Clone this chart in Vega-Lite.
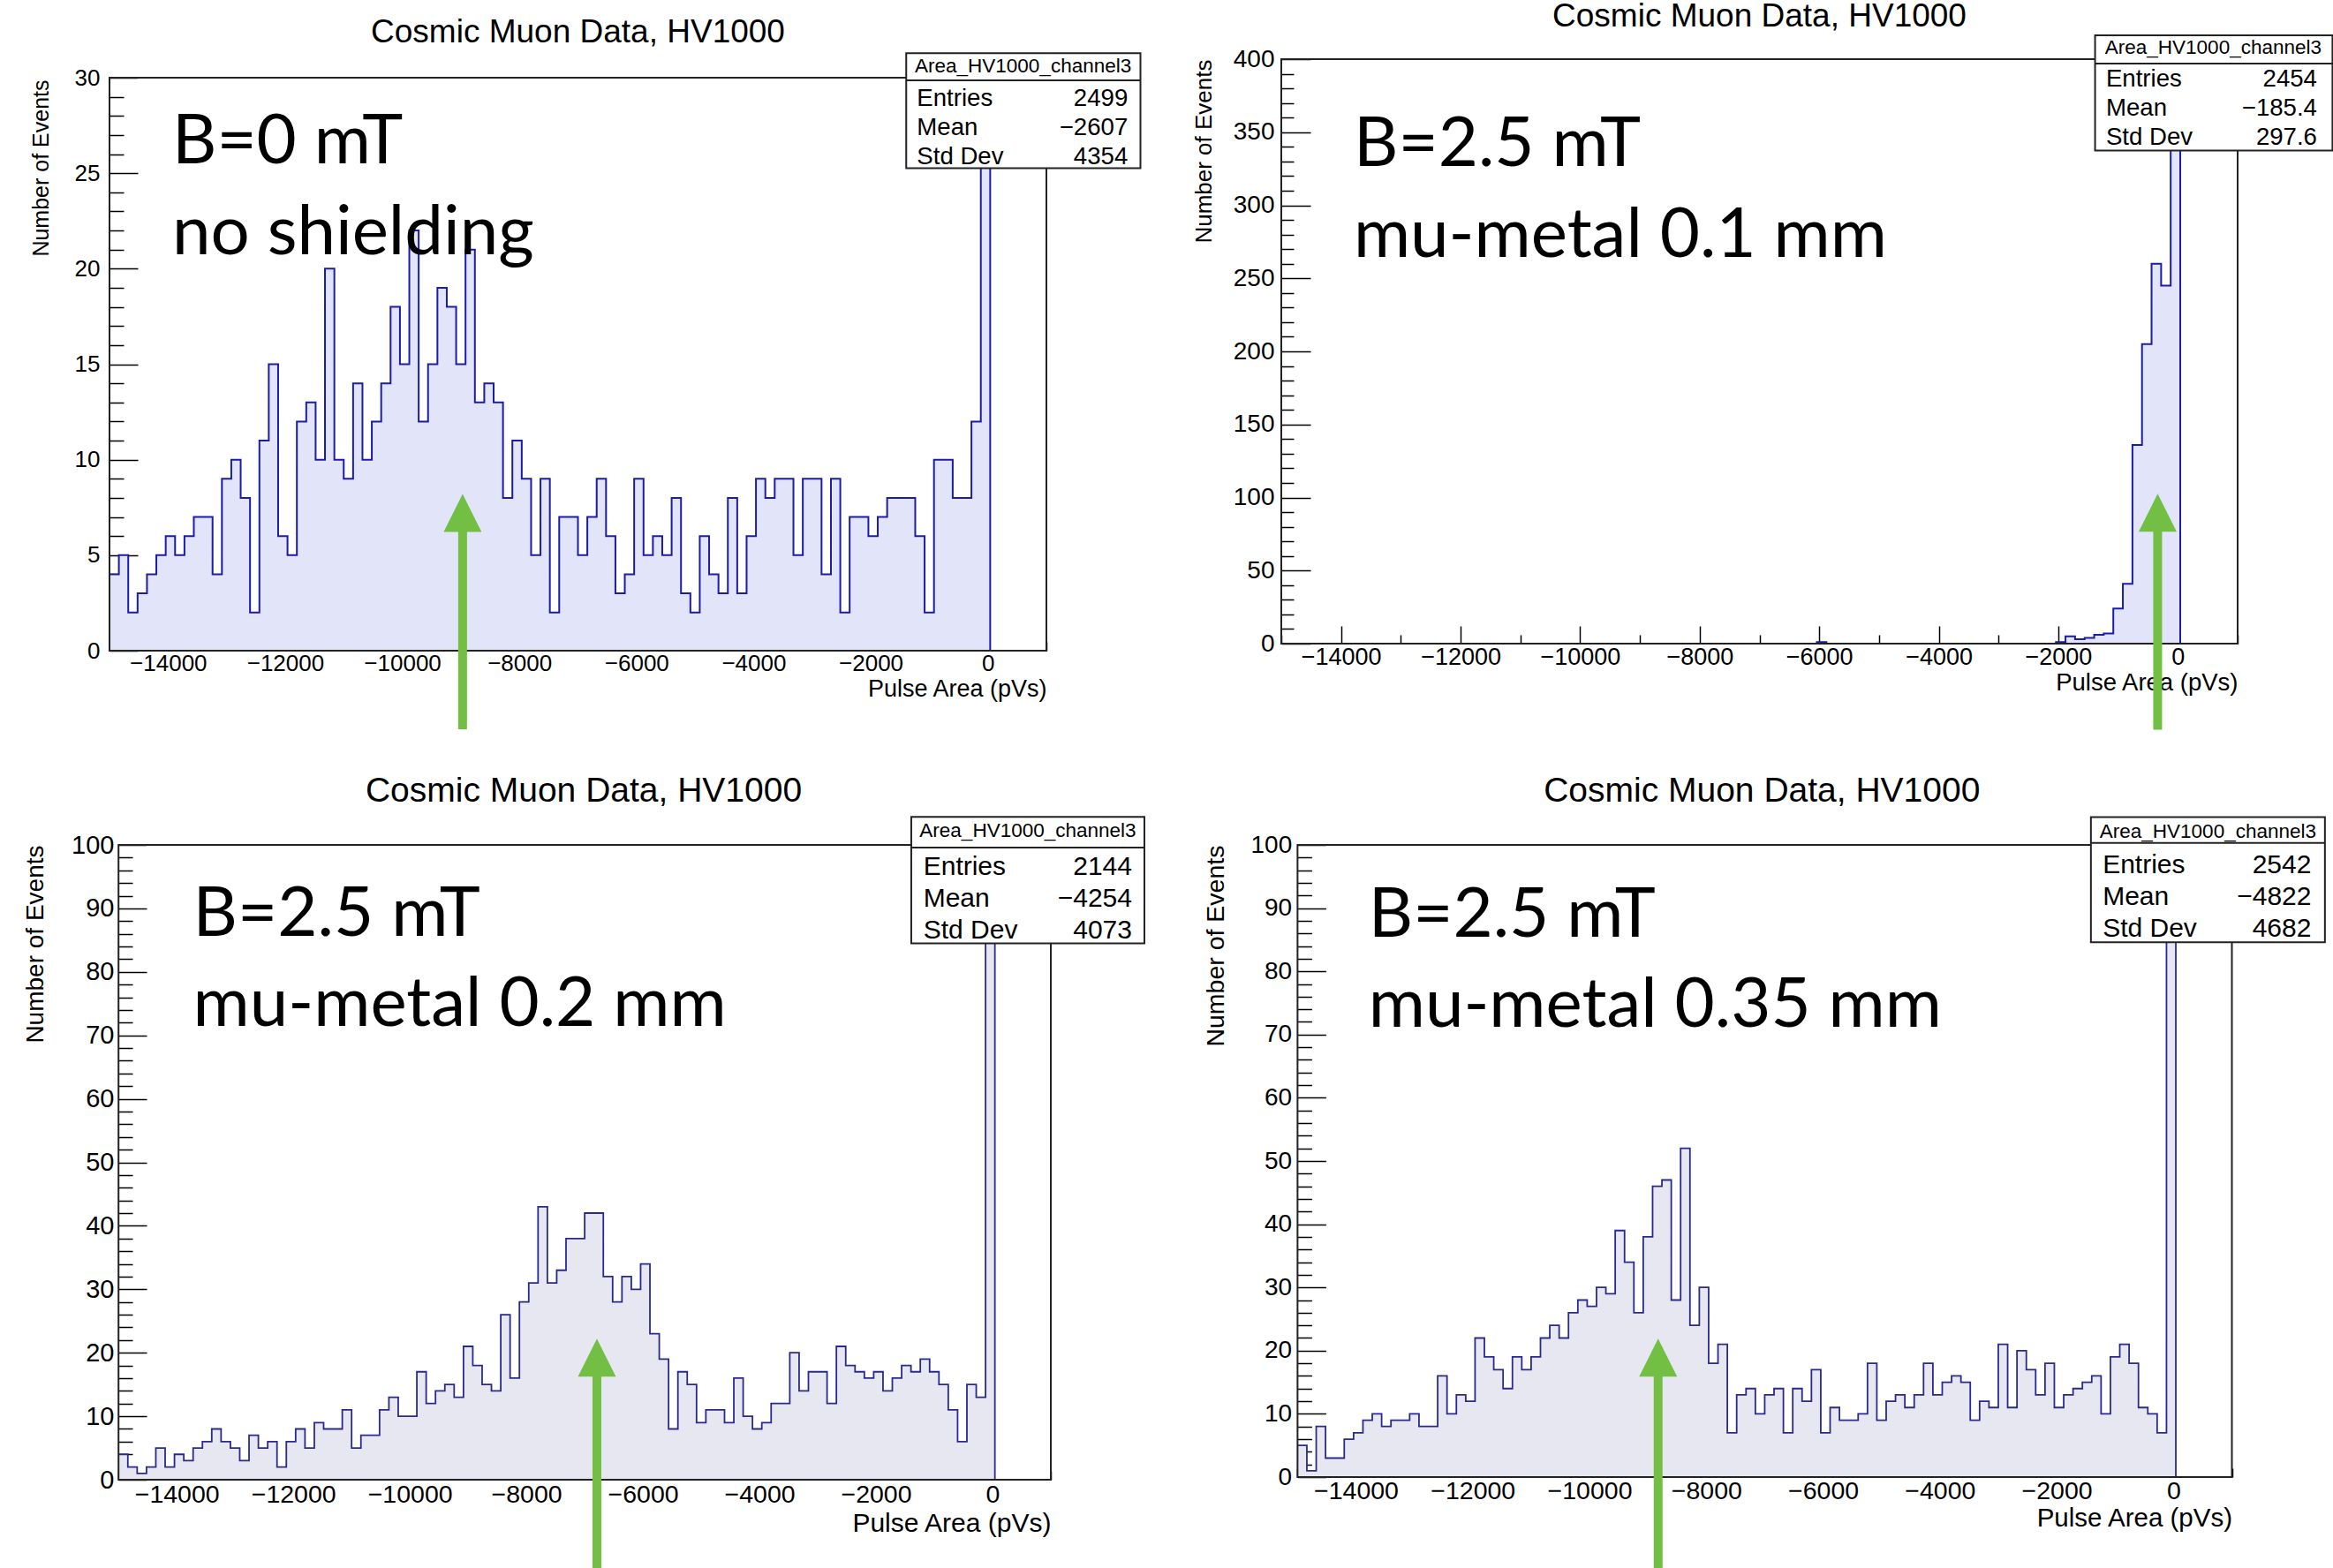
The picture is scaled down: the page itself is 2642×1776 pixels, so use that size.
{
"$schema": "https://vega.github.io/schema/vega-lite/v6.json",
"autosize": {"type": "pad"},
"padding": {"left": 26, "top": 0, "right": 0, "bottom": 0},
"background": "white",
"config": {
  "view": {"stroke": null},
  "axis": {"domain": false, "grid": false, "labelFont": "Liberation Sans", "labelColor": "#000", "tickColor": "#000", "tickWidth": 1.5, "titleFont": "Liberation Sans", "titleFontWeight": "normal", "titleColor": "#000", "labelFlush": false, "labelOverlap": false, "labelBound": false, "zindex": 1},
  "title": {"font": "Liberation Sans", "fontWeight": "normal", "color": "#000", "anchor": "middle", "frame": "group"}
},
"datasets": {
  "hist": [
    {"x0": -15000, "a": 4, "b": 0, "c": 4, "d": 5},
    {"x0": -14840, "a": 5, "b": 0, "c": 2, "d": 1},
    {"x0": -14680, "a": 2, "b": 0, "c": 1, "d": 8},
    {"x0": -14520, "a": 3, "b": 0, "c": 2, "d": 3},
    {"x0": -14360, "a": 4, "b": 0, "c": 5, "d": 3},
    {"x0": -14200, "a": 5, "b": 0, "c": 2, "d": 6},
    {"x0": -14040, "a": 6, "b": 0, "c": 4, "d": 7},
    {"x0": -13880, "a": 5, "b": 0, "c": 3, "d": 9},
    {"x0": -13720, "a": 6, "b": 0, "c": 5, "d": 10},
    {"x0": -13560, "a": 7, "b": 0, "c": 6, "d": 8},
    {"x0": -13400, "a": 7, "b": 0, "c": 8, "d": 9},
    {"x0": -13240, "a": 4, "b": 0, "c": 6, "d": 9},
    {"x0": -13080, "a": 9, "b": 0, "c": 5, "d": 10},
    {"x0": -12920, "a": 10, "b": 0, "c": 3, "d": 8},
    {"x0": -12760, "a": 8, "b": 0, "c": 7, "d": 8},
    {"x0": -12600, "a": 2, "b": 0, "c": 5, "d": 16},
    {"x0": -12440, "a": 11, "b": 0, "c": 6, "d": 10},
    {"x0": -12280, "a": 15, "b": 0, "c": 2, "d": 13},
    {"x0": -12120, "a": 6, "b": 0, "c": 6, "d": 12},
    {"x0": -11960, "a": 5, "b": 0, "c": 8, "d": 22},
    {"x0": -11800, "a": 12, "b": 0, "c": 5, "d": 19},
    {"x0": -11640, "a": 13, "b": 0, "c": 9, "d": 17},
    {"x0": -11480, "a": 10, "b": 0, "c": 8, "d": 14},
    {"x0": -11320, "a": 20, "b": 0, "c": 8, "d": 19},
    {"x0": -11160, "a": 10, "b": 0, "c": 11, "d": 17},
    {"x0": -11000, "a": 9, "b": 0, "c": 5, "d": 19},
    {"x0": -10840, "a": 14, "b": 0, "c": 7, "d": 22},
    {"x0": -10680, "a": 10, "b": 0, "c": 7, "d": 24},
    {"x0": -10520, "a": 12, "b": 0, "c": 11, "d": 22},
    {"x0": -10360, "a": 14, "b": 0, "c": 13, "d": 26},
    {"x0": -10200, "a": 18, "b": 0, "c": 10, "d": 28},
    {"x0": -10040, "a": 15, "b": 0, "c": 10, "d": 27},
    {"x0": -9880, "a": 22, "b": 0, "c": 17, "d": 30},
    {"x0": -9720, "a": 12, "b": 0, "c": 12, "d": 29},
    {"x0": -9560, "a": 15, "b": 0, "c": 14, "d": 39},
    {"x0": -9400, "a": 19, "b": 0, "c": 15, "d": 34},
    {"x0": -9240, "a": 18, "b": 0, "c": 13, "d": 26},
    {"x0": -9080, "a": 15, "b": 0, "c": 21, "d": 38},
    {"x0": -8920, "a": 21, "b": 0, "c": 18, "d": 46},
    {"x0": -8760, "a": 13, "b": 0, "c": 15, "d": 47},
    {"x0": -8600, "a": 14, "b": 0, "c": 14, "d": 28},
    {"x0": -8440, "a": 13, "b": 0, "c": 26, "d": 52},
    {"x0": -8280, "a": 8, "b": 0, "c": 16, "d": 24},
    {"x0": -8120, "a": 11, "b": 0, "c": 28, "d": 30},
    {"x0": -7960, "a": 9, "b": 0, "c": 31, "d": 18},
    {"x0": -7800, "a": 5, "b": 0, "c": 43, "d": 21},
    {"x0": -7640, "a": 9, "b": 0, "c": 31, "d": 7},
    {"x0": -7480, "a": 2, "b": 0, "c": 33, "d": 13},
    {"x0": -7320, "a": 7, "b": 0, "c": 38, "d": 14},
    {"x0": -7160, "a": 7, "b": 0, "c": 38, "d": 10},
    {"x0": -7000, "a": 5, "b": 0, "c": 42, "d": 13},
    {"x0": -6840, "a": 7, "b": 0, "c": 42, "d": 14},
    {"x0": -6680, "a": 9, "b": 0, "c": 32, "d": 7},
    {"x0": -6520, "a": 6, "b": 0, "c": 28, "d": 14},
    {"x0": -6360, "a": 3, "b": 0, "c": 32, "d": 12},
    {"x0": -6200, "a": 4, "b": 0, "c": 30, "d": 17},
    {"x0": -6040, "a": 9, "b": 1, "c": 34, "d": 7},
    {"x0": -5880, "a": 5, "b": 0, "c": 23, "d": 11},
    {"x0": -5720, "a": 6, "b": 0, "c": 19, "d": 9},
    {"x0": -5560, "a": 5, "b": 0, "c": 8, "d": 9},
    {"x0": -5400, "a": 8, "b": 0, "c": 17, "d": 10},
    {"x0": -5240, "a": 3, "b": 0, "c": 15, "d": 18},
    {"x0": -5080, "a": 2, "b": 0, "c": 9, "d": 9},
    {"x0": -4920, "a": 6, "b": 0, "c": 11, "d": 12},
    {"x0": -4760, "a": 4, "b": 0, "c": 11, "d": 13},
    {"x0": -4600, "a": 3, "b": 0, "c": 9, "d": 11},
    {"x0": -4440, "a": 8, "b": 0, "c": 16, "d": 13},
    {"x0": -4280, "a": 3, "b": 0, "c": 10, "d": 18},
    {"x0": -4120, "a": 6, "b": 0, "c": 8, "d": 13},
    {"x0": -3960, "a": 9, "b": 0, "c": 9, "d": 15},
    {"x0": -3800, "a": 8, "b": 0, "c": 12, "d": 16},
    {"x0": -3640, "a": 9, "b": 0, "c": 12, "d": 15},
    {"x0": -3480, "a": 9, "b": 0, "c": 20, "d": 9},
    {"x0": -3320, "a": 5, "b": 0, "c": 14, "d": 12},
    {"x0": -3160, "a": 9, "b": 0, "c": 17, "d": 11},
    {"x0": -3000, "a": 9, "b": 0, "c": 17, "d": 21},
    {"x0": -2840, "a": 4, "b": 0, "c": 12, "d": 11},
    {"x0": -2680, "a": 9, "b": 0, "c": 21, "d": 20},
    {"x0": -2520, "a": 2, "b": 0, "c": 18, "d": 17},
    {"x0": -2360, "a": 7, "b": 0, "c": 17, "d": 13},
    {"x0": -2200, "a": 7, "b": 0, "c": 16, "d": 18},
    {"x0": -2040, "a": 6, "b": 1, "c": 17, "d": 11},
    {"x0": -1880, "a": 7, "b": 5, "c": 14, "d": 13},
    {"x0": -1720, "a": 8, "b": 3, "c": 16, "d": 14},
    {"x0": -1560, "a": 8, "b": 4, "c": 18, "d": 15},
    {"x0": -1400, "a": 8, "b": 6, "c": 17, "d": 16},
    {"x0": -1240, "a": 6, "b": 7, "c": 19, "d": 10},
    {"x0": -1080, "a": 2, "b": 24, "c": 17, "d": 19},
    {"x0": -920, "a": 10, "b": 41, "c": 15, "d": 21},
    {"x0": -760, "a": 10, "b": 136, "c": 11, "d": 18},
    {"x0": -600, "a": 8, "b": 205, "c": 6, "d": 11},
    {"x0": -440, "a": 8, "b": 260, "c": 15, "d": 10},
    {"x0": -280, "a": 12, "b": 245, "c": 13, "d": 7},
    {"x0": -120, "a": 1716, "b": 1516, "c": 768, "d": 1032},
    {"x0": 40, "a": 0, "b": 0, "c": 0, "d": 0}
  ],
  "stats": [
    {"panel": "A", "hist": "Area_HV1000_channel3", "names": "Entries\nMean\nStd Dev", "values": "2499\n−2607\n4354"},
    {"panel": "B", "hist": "Area_HV1000_channel3", "names": "Entries\nMean\nStd Dev", "values": "2454\n−185.4\n297.6"},
    {"panel": "C", "hist": "Area_HV1000_channel3", "names": "Entries\nMean\nStd Dev", "values": "2144\n−4254\n4073"},
    {"panel": "D", "hist": "Area_HV1000_channel3", "names": "Entries\nMean\nStd Dev", "values": "2542\n−4822\n4682"}
  ],
  "notes": [
    {"panel": "A", "label": "B=0 mT\nno shielding", "peak": -8970},
    {"panel": "B", "label": "B=2.5 mT\nmu-metal 0.1 mm", "peak": -338},
    {"panel": "C", "label": "B=2.5 mT\nmu-metal 0.2 mm", "peak": -6790},
    {"panel": "D", "label": "B=2.5 mT\nmu-metal 0.35 mm", "peak": -8825}
  ]
},
"bounds": "flush",
"columns": 2,
"spacing": {"row": 220, "column": 261},
"concat": [
{
  "width": 1061, "height": 670,
  "title": {"text": "Cosmic Muon Data, HV1000", "fontSize": 37, "offset": 3.8},
  "resolve": {"axis": {"y": "independent"}},
  "layer": [
    {"data": {"name": "hist"},
     "mark": {"type": "area", "interpolate": "step-after", "fill": "#e2e5fa", "clip": true},
     "encoding": {
       "x": {"field": "x0", "type": "quantitative", "scale": {"domain": [-15000, 1000], "nice": false, "zero": false},
             "axis": {"values": [-15000,-14500,-14000,-13500,-13000,-12500,-12000,-11500,-11000,-10500,-10000,-9500,-9000,-8500,-8000,-7500,-7000,-6500,-6000,-5500,-5000,-4500,-4000,-3500,-3000,-2500,-2000,-1500,-1000,-500,0,500,1000],
                      "format": "d", "labelExpr": "datum.value % 2000 === 0 ? datum.label : ''",
                      "tickSize": {"condition": {"test": "datum.value % 2000 === 0", "value": -20}, "value": -10},
                      "labelPadding": 21, "labelFontSize": 26,
                      "title": "Pulse Area (pVs)", "titleAnchor": "end", "titleFontSize": 27, "titlePadding": -7}},
       "y": {"field": "a", "type": "quantitative", "scale": {"domain": [0, 30.971], "nice": false, "zero": false},
             "axis": {"orient": "left", "values": [0,5,10,15,20,25,30], "format": "d", "tickSize": -32,
                      "labelPadding": 43, "labelFontSize": 26,
                      "title": "Number of Events", "titleAnchor": "end", "titleY": 23, "titleFontSize": 25, "titlePadding": 25}}
     }},
    {"data": {"name": "hist"},
     "mark": {"type": "line", "interpolate": "step-after", "stroke": "#1c1ca8", "strokeWidth": 2, "clip": true},
     "encoding": {"x": {"field": "x0", "type": "quantitative"},
                  "y": {"field": "a", "type": "quantitative",
                        "axis": {"orient": "left", "values": [1,2,3,4,6,7,8,9,11,12,13,14,16,17,18,19,21,22,23,24,26,27,28,29], "labels": false, "tickSize": -16, "title": null}}}},
    {"data": {"values": [{}]},
     "mark": {"type": "rect", "filled": false, "stroke": "#222", "strokeWidth": 2},
     "encoding": {"x": {"datum": -15000}, "x2": {"datum": 1000}, "y": {"datum": 0, "axis": null}, "y2": {"datum": 30}}},
    {"data": {"values": [{}]},
     "mark": {"type": "rect", "fill": "white", "stroke": "#222", "strokeWidth": 2},
     "encoding": {"x": {"datum": -1394}, "x2": {"datum": 2606}, "y": {"datum": 25.26, "axis": null}, "y2": {"datum": 31.28}}},
    {"data": {"values": [{}]},
     "mark": {"type": "rule", "stroke": "#222", "strokeWidth": 2},
     "encoding": {"x": {"datum": -1394}, "x2": {"datum": 2606}, "y": {"datum": 29.86, "axis": null}}},
    {"data": {"name": "stats"}, "transform": [{"filter": "datum.panel === 'A'"}],
     "mark": {"type": "text", "font": "Liberation Sans", "fontSize": 22.5, "align": "center", "baseline": "alphabetic", "color": "#000"},
     "encoding": {"text": {"field": "hist"}, "x": {"datum": 602}, "y": {"datum": 30.26, "axis": null}}},
    {"data": {"name": "stats"}, "transform": [{"filter": "datum.panel === 'A'"}],
     "mark": {"type": "text", "font": "Liberation Sans", "fontSize": 27.6, "align": "left", "baseline": "alphabetic", "lineBreak": "\n", "lineHeight": 32.7, "color": "#000"},
     "encoding": {"text": {"field": "names"}, "x": {"datum": -1212}, "y": {"datum": 28.51, "axis": null}}},
    {"data": {"name": "stats"}, "transform": [{"filter": "datum.panel === 'A'"}],
     "mark": {"type": "text", "font": "Liberation Sans", "fontSize": 27.6, "align": "right", "baseline": "alphabetic", "lineBreak": "\n", "lineHeight": 32.7, "color": "#000"},
     "encoding": {"text": {"field": "values"}, "x": {"datum": 2391}, "y": {"datum": 28.51, "axis": null}}},
    {"data": {"name": "notes"}, "transform": [{"filter": "datum.panel === 'A'"}],
     "mark": {"type": "text", "font": "Lato", "fontSize": 78, "align": "left", "baseline": "alphabetic", "lineBreak": "\n", "lineHeight": 103, "color": "#000"},
     "encoding": {"text": {"field": "label"}, "x": {"datum": -13930}, "y": {"datum": 25.5, "axis": null}}},
    {"data": {"name": "notes"}, "transform": [{"filter": "datum.panel === 'A'"}],
     "mark": {"type": "rule", "stroke": "#72bf44", "strokeWidth": 10},
     "encoding": {"x": {"field": "peak", "type": "quantitative"}, "y": {"datum": -4.11, "axis": null}, "y2": {"datum": 7.21}}},
    {"data": {"name": "notes"}, "transform": [{"filter": "datum.panel === 'A'"}],
     "mark": {"type": "point", "shape": "M0,-1L-1,1L1,1Z", "size": 1849, "filled": true, "fill": "#72bf44", "opacity": 1, "strokeWidth": 0},
     "encoding": {"x": {"field": "peak", "type": "quantitative"}, "y": {"datum": 7.21, "axis": null}}}
  ]
},
{
  "width": 1083, "height": 662,
  "title": {"text": "Cosmic Muon Data, HV1000", "fontSize": 37, "offset": 1},
  "resolve": {"axis": {"y": "independent"}},
  "layer": [
    {"data": {"name": "hist"},
     "mark": {"type": "area", "interpolate": "step-after", "fill": "#e2e5fa", "clip": true},
     "encoding": {
       "x": {"field": "x0", "type": "quantitative", "scale": {"domain": [-15000, 1000], "nice": false, "zero": false},
             "axis": {"values": [-15000,-14500,-14000,-13500,-13000,-12500,-12000,-11500,-11000,-10500,-10000,-9500,-9000,-8500,-8000,-7500,-7000,-6500,-6000,-5500,-5000,-4500,-4000,-3500,-3000,-2500,-2000,-1500,-1000,-500,0,500,1000],
                      "format": "d", "labelExpr": "datum.value % 2000 === 0 ? datum.label : ''",
                      "tickSize": {"condition": {"test": "datum.value % 2000 === 0", "value": -20}, "value": -10},
                      "labelPadding": 22, "labelFontSize": 27,
                      "title": "Pulse Area (pVs)", "titleAnchor": "end", "titleFontSize": 27.5, "titlePadding": -7.5}},
       "y": {"field": "b", "type": "quantitative", "scale": {"domain": [0, 400], "nice": false, "zero": false},
             "axis": {"orient": "left", "values": [0,50,100,150,200,250,300,350,400], "format": "d", "tickSize": -33,
                      "labelPadding": 41, "labelFontSize": 28,
                      "title": "Number of Events", "titleAnchor": "end", "titleFontSize": 26, "titlePadding": 20}}
     }},
    {"data": {"name": "hist"},
     "mark": {"type": "line", "interpolate": "step-after", "stroke": "#1c1ca8", "strokeWidth": 2, "clip": true},
     "encoding": {"x": {"field": "x0", "type": "quantitative"},
                  "y": {"field": "b", "type": "quantitative",
                        "axis": {"orient": "left", "values": [10,20,30,40,60,70,80,90,110,120,130,140,160,170,180,190,210,220,230,240,260,270,280,290,310,320,330,340,360,370,380,390], "labels": false, "tickSize": -14, "title": null}}}},
    {"data": {"values": [{}]},
     "mark": {"type": "rect", "filled": false, "stroke": "#222", "strokeWidth": 2},
     "encoding": {"x": {"datum": -15000}, "x2": {"datum": 1000}, "y": {"datum": 0, "axis": null}, "y2": {"datum": 400}}},
    {"data": {"values": [{}]},
     "mark": {"type": "rect", "fill": "white", "stroke": "#222", "strokeWidth": 2},
     "encoding": {"x": {"datum": -1385}, "x2": {"datum": 2587}, "y": {"datum": 337.4, "axis": null}, "y2": {"datum": 416.3}}},
    {"data": {"values": [{}]},
     "mark": {"type": "rule", "stroke": "#222", "strokeWidth": 2},
     "encoding": {"x": {"datum": -1385}, "x2": {"datum": 2587}, "y": {"datum": 397.0, "axis": null}}},
    {"data": {"name": "stats"}, "transform": [{"filter": "datum.panel === 'B'"}],
     "mark": {"type": "text", "font": "Liberation Sans", "fontSize": 22.5, "align": "center", "baseline": "alphabetic", "color": "#000"},
     "encoding": {"text": {"field": "hist"}, "x": {"datum": 592}, "y": {"datum": 403.6, "axis": null}}},
    {"data": {"name": "stats"}, "transform": [{"filter": "datum.panel === 'B'"}],
     "mark": {"type": "text", "font": "Liberation Sans", "fontSize": 27.6, "align": "left", "baseline": "alphabetic", "lineBreak": "\n", "lineHeight": 32.85, "color": "#000"},
     "encoding": {"text": {"field": "names"}, "x": {"datum": -1202}, "y": {"datum": 381.1, "axis": null}}},
    {"data": {"name": "stats"}, "transform": [{"filter": "datum.panel === 'B'"}],
     "mark": {"type": "text", "font": "Liberation Sans", "fontSize": 27.6, "align": "right", "baseline": "alphabetic", "lineBreak": "\n", "lineHeight": 32.85, "color": "#000"},
     "encoding": {"text": {"field": "values"}, "x": {"datum": 2329}, "y": {"datum": 381.1, "axis": null}}},
    {"data": {"name": "notes"}, "transform": [{"filter": "datum.panel === 'B'"}],
     "mark": {"type": "text", "font": "Lato", "fontSize": 78, "align": "left", "baseline": "alphabetic", "lineBreak": "\n", "lineHeight": 103, "color": "#000"},
     "encoding": {"text": {"field": "label"}, "x": {"datum": -13789}, "y": {"datum": 326.9, "axis": null}}},
    {"data": {"name": "notes"}, "transform": [{"filter": "datum.panel === 'B'"}],
     "mark": {"type": "rule", "stroke": "#72bf44", "strokeWidth": 10},
     "encoding": {"x": {"field": "peak", "type": "quantitative"}, "y": {"datum": -58.9, "axis": null}, "y2": {"datum": 89.6}}},
    {"data": {"name": "notes"}, "transform": [{"filter": "datum.panel === 'B'"}],
     "mark": {"type": "point", "shape": "M0,-1L-1,1L1,1Z", "size": 1849, "filled": true, "fill": "#72bf44", "opacity": 1, "strokeWidth": 0},
     "encoding": {"x": {"field": "peak", "type": "quantitative"}, "y": {"datum": 89.6, "axis": null}}}
  ]
},
{
  "width": 1066, "height": 719,
  "title": {"text": "Cosmic Muon Data, HV1000", "fontSize": 39, "offset": 8.4, "dx": 4},
  "resolve": {"axis": {"y": "independent"}},
  "layer": [
    {"data": {"name": "hist"},
     "mark": {"type": "area", "interpolate": "step-after", "fill": "#e7e7f1", "clip": true},
     "encoding": {
       "x": {"field": "x0", "type": "quantitative", "scale": {"domain": [-15155, 1000], "nice": false, "zero": false},
             "axis": {"values": [-15000,-14500,-14000,-13500,-13000,-12500,-12000,-11500,-11000,-10500,-10000,-9500,-9000,-8500,-8000,-7500,-7000,-6500,-6000,-5500,-5000,-4500,-4000,-3500,-3000,-2500,-2000,-1500,-1000,-500,0,500,1000],
                      "format": "d", "labelExpr": "datum.value % 2000 === 0 ? datum.label : ''",
                      "tickSize": {"condition": {"test": "datum.value % 2000 === 0", "value": -20}, "value": -10},
                      "labelPadding": 22, "labelFontSize": 28.5,
                      "title": "Pulse Area (pVs)", "titleAnchor": "end", "titleFontSize": 30, "titlePadding": -6}},
       "y": {"field": "c", "type": "quantitative", "scale": {"domain": [0, 100], "nice": false, "zero": false},
             "axis": {"orient": "left", "values": [0,10,20,30,40,50,60,70,80,90,100], "format": "d", "tickSize": -32,
                      "labelPadding": 37, "labelFontSize": 29, "offset": -10,
                      "title": "Number of Events", "titleAnchor": "end", "titleFontSize": 28, "titlePadding": 26.5}}
     }},
    {"data": {"name": "hist"},
     "mark": {"type": "line", "interpolate": "step-after", "stroke": "#2a2a8e", "strokeWidth": 1.8, "clip": true},
     "encoding": {"x": {"field": "x0", "type": "quantitative"},
                  "y": {"field": "c", "type": "quantitative",
                        "axis": {"orient": "left", "values": [2,4,6,8,12,14,16,18,22,24,26,28,32,34,36,38,42,44,46,48,52,54,56,58,62,64,66,68,72,74,76,78,82,84,86,88,92,94,96,98], "labels": false, "tickSize": -16, "offset": -10, "title": null}}}},
    {"data": {"values": [{}]},
     "mark": {"type": "rect", "filled": false, "stroke": "#222", "strokeWidth": 2},
     "encoding": {"x": {"datum": -15000}, "x2": {"datum": 1000}, "y": {"datum": 0, "axis": null}, "y2": {"datum": 100}}},
    {"data": {"values": [{}]},
     "mark": {"type": "rect", "fill": "white", "stroke": "#222", "strokeWidth": 2},
     "encoding": {"x": {"datum": -1395}, "x2": {"datum": 2606}, "y": {"datum": 84.5, "axis": null}, "y2": {"datum": 104.4}}},
    {"data": {"values": [{}]},
     "mark": {"type": "rule", "stroke": "#222", "strokeWidth": 2},
     "encoding": {"x": {"datum": -1395}, "x2": {"datum": 2606}, "y": {"datum": 99.6, "axis": null}}},
    {"data": {"name": "stats"}, "transform": [{"filter": "datum.panel === 'C'"}],
     "mark": {"type": "text", "font": "Liberation Sans", "fontSize": 22.5, "align": "center", "baseline": "alphabetic", "color": "#000"},
     "encoding": {"text": {"field": "hist"}, "x": {"datum": 605}, "y": {"datum": 101.2, "axis": null}}},
    {"data": {"name": "stats"}, "transform": [{"filter": "datum.panel === 'C'"}],
     "mark": {"type": "text", "font": "Liberation Sans", "fontSize": 30, "align": "left", "baseline": "alphabetic", "lineBreak": "\n", "lineHeight": 36.1, "color": "#000"},
     "encoding": {"text": {"field": "names"}, "x": {"datum": -1187}, "y": {"datum": 95.3, "axis": null}}},
    {"data": {"name": "stats"}, "transform": [{"filter": "datum.panel === 'C'"}],
     "mark": {"type": "text", "font": "Liberation Sans", "fontSize": 30, "align": "right", "baseline": "alphabetic", "lineBreak": "\n", "lineHeight": 36.1, "color": "#000"},
     "encoding": {"text": {"field": "values"}, "x": {"datum": 2394}, "y": {"datum": 95.3, "axis": null}}},
    {"data": {"name": "notes"}, "transform": [{"filter": "datum.panel === 'C'"}],
     "mark": {"type": "text", "font": "Lato", "fontSize": 78, "align": "left", "baseline": "alphabetic", "lineBreak": "\n", "lineHeight": 102.6, "color": "#000"},
     "encoding": {"text": {"field": "label"}, "x": {"datum": -13721}, "y": {"datum": 85.7, "axis": null}}},
    {"data": {"name": "notes"}, "transform": [{"filter": "datum.panel === 'C'"}],
     "mark": {"type": "rule", "stroke": "#72bf44", "strokeWidth": 10},
     "encoding": {"x": {"field": "peak", "type": "quantitative"}, "y": {"datum": -15, "axis": null}, "y2": {"datum": 19.22}}},
    {"data": {"name": "notes"}, "transform": [{"filter": "datum.panel === 'C'"}],
     "mark": {"type": "point", "shape": "M0,-1L-1,1L1,1Z", "size": 1849, "filled": true, "fill": "#72bf44", "opacity": 1, "strokeWidth": 0},
     "encoding": {"x": {"field": "peak", "type": "quantitative"}, "y": {"datum": 19.22, "axis": null}}}
  ]
},
{
  "width": 1076.5, "height": 716,
  "title": {"text": "Cosmic Muon Data, HV1000", "fontSize": 39, "offset": 8.4, "dx": 6},
  "resolve": {"axis": {"y": "independent"}},
  "layer": [
    {"data": {"name": "hist"},
     "mark": {"type": "area", "interpolate": "step-after", "fill": "#e7e7f1", "clip": true},
     "encoding": {
       "x": {"field": "x0", "type": "quantitative", "scale": {"domain": [-15278, 1000], "nice": false, "zero": false},
             "axis": {"values": [-15000,-14500,-14000,-13500,-13000,-12500,-12000,-11500,-11000,-10500,-10000,-9500,-9000,-8500,-8000,-7500,-7000,-6500,-6000,-5500,-5000,-4500,-4000,-3500,-3000,-2500,-2000,-1500,-1000,-500,0,500,1000],
                      "format": "d", "labelExpr": "datum.value % 2000 === 0 ? datum.label : ''",
                      "tickSize": {"condition": {"test": "datum.value % 2000 === 0", "value": -20}, "value": -10},
                      "labelPadding": 21, "labelFontSize": 28.5,
                      "title": "Pulse Area (pVs)", "titleAnchor": "end", "titleFontSize": 29.5, "titlePadding": -6.7}},
       "y": {"field": "d", "type": "quantitative", "scale": {"domain": [0, 100], "nice": false, "zero": false},
             "axis": {"orient": "left", "values": [0,10,20,30,40,50,60,70,80,90,100], "format": "d", "tickSize": -32,
                      "labelPadding": 38.7, "labelFontSize": 28, "offset": -18.4,
                      "title": "Number of Events", "titleAnchor": "end", "titleFontSize": 28.5, "titlePadding": 24.7}}
     }},
    {"data": {"name": "hist"},
     "mark": {"type": "line", "interpolate": "step-after", "stroke": "#2a2a8e", "strokeWidth": 1.8, "clip": true},
     "encoding": {"x": {"field": "x0", "type": "quantitative"},
                  "y": {"field": "d", "type": "quantitative",
                        "axis": {"orient": "left", "values": [2,4,6,8,12,14,16,18,22,24,26,28,32,34,36,38,42,44,46,48,52,54,56,58,62,64,66,68,72,74,76,78,82,84,86,88,92,94,96,98], "labels": false, "tickSize": -16, "offset": -18.4, "title": null}}}},
    {"data": {"values": [{}]},
     "mark": {"type": "rect", "filled": false, "stroke": "#222", "strokeWidth": 2},
     "encoding": {"x": {"datum": -15000}, "x2": {"datum": 1000}, "y": {"datum": 0, "axis": null}, "y2": {"datum": 100}}},
    {"data": {"values": [{}]},
     "mark": {"type": "rect", "fill": "white", "stroke": "#222", "strokeWidth": 2},
     "encoding": {"x": {"datum": -1414}, "x2": {"datum": 2593}, "y": {"datum": 84.6, "axis": null}, "y2": {"datum": 104.4}}},
    {"data": {"values": [{}]},
     "mark": {"type": "rule", "stroke": "#222", "strokeWidth": 2},
     "encoding": {"x": {"datum": -1414}, "x2": {"datum": 2593}, "y": {"datum": 100.3, "axis": null}}},
    {"data": {"name": "stats"}, "transform": [{"filter": "datum.panel === 'D'"}],
     "mark": {"type": "text", "font": "Liberation Sans", "fontSize": 22.5, "align": "center", "baseline": "alphabetic", "color": "#000"},
     "encoding": {"text": {"field": "hist"}, "x": {"datum": 590}, "y": {"datum": 101.1, "axis": null}}},
    {"data": {"name": "stats"}, "transform": [{"filter": "datum.panel === 'D'"}],
     "mark": {"type": "text", "font": "Liberation Sans", "fontSize": 30, "align": "left", "baseline": "alphabetic", "lineBreak": "\n", "lineHeight": 36, "color": "#000"},
     "encoding": {"text": {"field": "names"}, "x": {"datum": -1213}, "y": {"datum": 95.5, "axis": null}}},
    {"data": {"name": "stats"}, "transform": [{"filter": "datum.panel === 'D'"}],
     "mark": {"type": "text", "font": "Liberation Sans", "fontSize": 30, "align": "right", "baseline": "alphabetic", "lineBreak": "\n", "lineHeight": 36, "color": "#000"},
     "encoding": {"text": {"field": "values"}, "x": {"datum": 2360}, "y": {"datum": 95.5, "axis": null}}},
    {"data": {"name": "notes"}, "transform": [{"filter": "datum.panel === 'D'"}],
     "mark": {"type": "text", "font": "Lato", "fontSize": 78, "align": "left", "baseline": "alphabetic", "lineBreak": "\n", "lineHeight": 102.6, "color": "#000"},
     "encoding": {"text": {"field": "label"}, "x": {"datum": -13785}, "y": {"datum": 85.5, "axis": null}}},
    {"data": {"name": "notes"}, "transform": [{"filter": "datum.panel === 'D'"}],
     "mark": {"type": "rule", "stroke": "#72bf44", "strokeWidth": 10},
     "encoding": {"x": {"field": "peak", "type": "quantitative"}, "y": {"datum": -15, "axis": null}, "y2": {"datum": 18.9}}},
    {"data": {"name": "notes"}, "transform": [{"filter": "datum.panel === 'D'"}],
     "mark": {"type": "point", "shape": "M0,-1L-1,1L1,1Z", "size": 1849, "filled": true, "fill": "#72bf44", "opacity": 1, "strokeWidth": 0},
     "encoding": {"x": {"field": "peak", "type": "quantitative"}, "y": {"datum": 18.9, "axis": null}}}
  ]
}
]
}
